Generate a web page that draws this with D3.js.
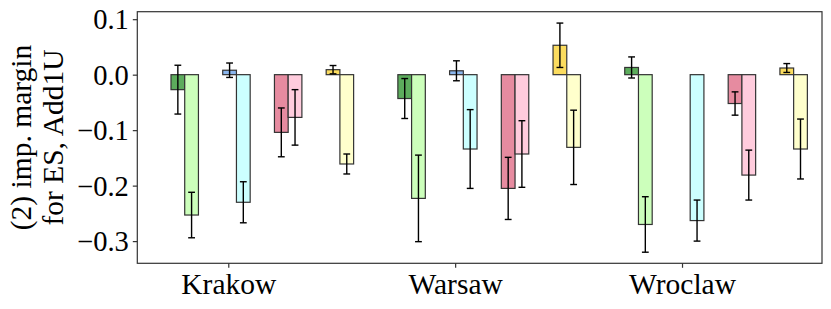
<!DOCTYPE html>
<html>
<head>
<meta charset="utf-8">
<script src="https://cdn.jsdelivr.net/npm/d3@7"></script>
<style>
  html, body { margin: 0; padding: 0; background: #fff; }
  svg { display: block; }
  text { font-family: "Liberation Serif", "Times New Roman", serif; fill: #000; }
</style>
</head>
<body>
<svg id="chart" width="831" height="309"></svg>
<script>
// ---- data ----
const cities = ["Krakow", "Warsaw", "Wroclaw"];
const seriesNames = ["A dark", "A light", "B dark", "B light", "C dark", "C light", "D dark", "D light"];
const seriesColors = ["#5cac5c", "#ccffbb", "#8ab6ee", "#ccffff", "#e68ba0", "#ffccdd", "#fbdc5f", "#ffffcc"];
const values = [
  [-0.027, -0.043, 0.013],
  [-0.253, -0.223, -0.270],
  [0.008, 0.007, 0.0],
  [-0.230, -0.134, -0.263],
  [-0.104, -0.205, -0.052],
  [-0.077, -0.143, -0.181],
  [0.009, 0.053, 0.012],
  [-0.161, -0.131, -0.134]
];
const errors = [
  [0.044, 0.036, 0.019],
  [0.041, 0.078, 0.050],
  [0.013, 0.018, 0.0],
  [0.037, 0.071, 0.037],
  [0.044, 0.056, 0.021],
  [0.050, 0.060, 0.045],
  [0.0075, 0.040, 0.008],
  [0.018, 0.067, 0.054]
];
const yTicks = [0.1, 0.0, -0.1, -0.2, -0.3];
const yLabelLines = ["(2) imp. margin", "for ES, Add1U"];

// ---- layout ----
const M = { left: 137.3, right: 822, top: 11.7, bottom: 263.3 };
const barW = 0.0605, pairStart = -0.192, pairStep = 0.228;

const svg = d3.select("#chart");
const x = d3.scaleLinear().domain([-0.401, 2.617]).range([M.left, M.right]);
const y = d3.scaleLinear().domain([-0.340, 0.1135]).range([M.bottom, M.top]);

// bars
const bars = [];
seriesNames.forEach((name, s) => {
  const pair = Math.floor(s / 2);
  const isLight = s % 2 === 1;
  cities.forEach((c, i) => {
    const boundary = i + pairStart + pair * pairStep;
    const x0 = isLight ? boundary : boundary - barW;
    bars.push({ s, i, x0, x1: x0 + barW, v: values[s][i], e: errors[s][i], color: seriesColors[s] });
  });
});

const g = svg.append("g");
g.selectAll("rect.bar").data(bars).enter().append("rect")
  .attr("class", "bar")
  .attr("x", d => x(d.x0))
  .attr("width", d => x(d.x1) - x(d.x0))
  .attr("y", d => y(Math.max(0, d.v)))
  .attr("height", d => Math.abs(y(d.v) - y(0)))
  .attr("fill", d => d.color)
  .attr("stroke", "#333")
  .attr("stroke-width", 1.2);

// error bars
const eb = g.selectAll("g.err").data(bars.filter(d => d.e > 0)).enter().append("g").attr("class", "err")
  .attr("stroke", "#000").attr("stroke-width", 1.4);
eb.append("line")
  .attr("x1", d => x((d.x0 + d.x1) / 2)).attr("x2", d => x((d.x0 + d.x1) / 2))
  .attr("y1", d => y(d.v + d.e)).attr("y2", d => y(d.v - d.e));
eb.append("line")
  .attr("x1", d => x((d.x0 + d.x1) / 2) - 3.4).attr("x2", d => x((d.x0 + d.x1) / 2) + 3.4)
  .attr("y1", d => y(d.v + d.e)).attr("y2", d => y(d.v + d.e));
eb.append("line")
  .attr("x1", d => x((d.x0 + d.x1) / 2) - 3.4).attr("x2", d => x((d.x0 + d.x1) / 2) + 3.4)
  .attr("y1", d => y(d.v - d.e)).attr("y2", d => y(d.v - d.e));

// frame
svg.append("rect").attr("x", M.left).attr("y", M.top)
  .attr("width", M.right - M.left).attr("height", M.bottom - M.top)
  .attr("fill", "none").attr("stroke", "#333").attr("stroke-width", 1.2);

// y axis
const fmt = v => (v < 0 ? "\u2212" : "") + Math.abs(v).toFixed(1);
const yAxis = d3.axisLeft(y).tickValues(yTicks).tickFormat(fmt).tickSize(4.5).tickPadding(4);
const ya = svg.append("g").attr("transform", `translate(${M.left},0)`).call(yAxis);
ya.select(".domain").remove();
ya.selectAll(".tick line").attr("stroke", "#333").attr("stroke-width", 1.2);
ya.selectAll(".tick text").attr("font-size", 28.5).attr("font-family", "Liberation Serif").attr("fill", "#000").attr("dy", "0.34em");

// x axis
const xAxis = d3.axisBottom(x).tickValues([0, 1, 2]).tickFormat(i => cities[i]).tickSize(4.5).tickPadding(5);
const xa = svg.append("g").attr("transform", `translate(0,${M.bottom})`).call(xAxis);
xa.select(".domain").remove();
xa.selectAll(".tick line").attr("stroke", "#333").attr("stroke-width", 1.2);
xa.selectAll(".tick text").attr("font-size", 29.5).attr("font-family", "Liberation Serif").attr("fill", "#000").attr("dy", "0.71em");

// y label
const cy = (M.top + M.bottom) / 2;
[31, 63].forEach((bx, k) => {
  svg.append("text")
    .attr("transform", `translate(${bx},${cy}) rotate(-90)`)
    .attr("text-anchor", "middle")
    .attr("font-size", 29.5)
    .text(yLabelLines[k]);
});
</script>
</body>
</html>
